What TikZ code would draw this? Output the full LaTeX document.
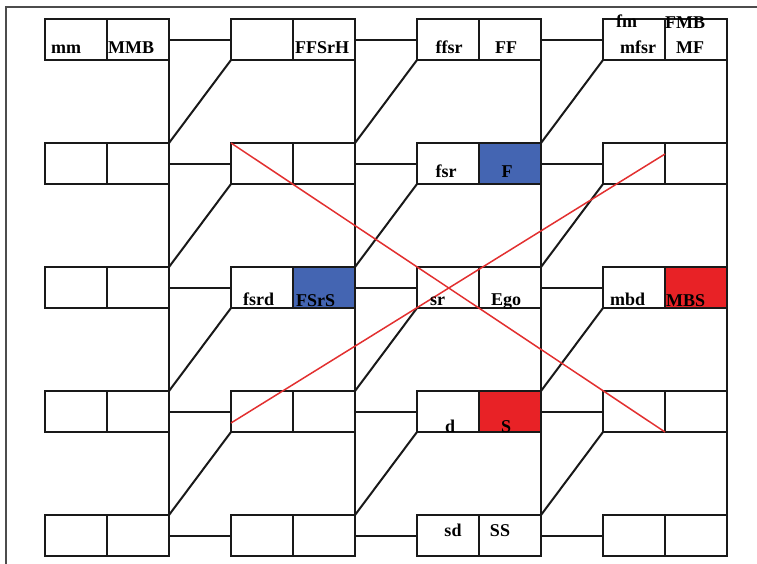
\documentclass[tikz,border=0pt]{standalone}
\usepackage{fontspec}
\setmainfont{Liberation Serif}
\usepackage{tikz}
\usetikzlibrary{calc}
\definecolor{egoblue}{RGB}{68,101,178}
\definecolor{egored}{RGB}{232,34,38}
\definecolor{crossred}{RGB}{226,48,48}

\begin{document}
\begin{tikzpicture}[x=1pt,y=-1pt,
    cell/.style={draw=black!90,line width=2pt,minimum width=62pt,minimum height=41pt,inner sep=0pt,outer sep=0pt},
    link/.style={draw=black!90,line width=2pt},
    lbl/.style={font=\fontsize{18}{18}\selectfont\bfseries,inner sep=0pt},
    % coloured cells
    fillR32/.style={fill=egoblue}, fillR23/.style={fill=egoblue},
    fillR34/.style={fill=egored}, fillR43/.style={fill=egored}]
  \useasboundingbox (0,0) rectangle (757,563);
  % frame
  \draw[line width=1.2pt,black!70] (6,575) -- (6,7) -- (770,7);
  % cells: four columns of pairs, five rows
  \foreach \c in {1,...,4}
    \foreach \r in {1,...,5} {
      \node[cell,fillL\c\r/.try] (L\c\r) at ({76+186*(\c-1)},{39.5+124*(\r-1)}) {};
      \node[cell,fillR\c\r/.try,anchor=west] (R\c\r) at (L\c\r.east) {};
    }
  % spines
  \foreach \c in {1,...,4}
    \draw[link] (R\c1.north east) -- (R\c5.south east);
  % horizontal and slanted links
  \foreach \c [evaluate=\c as \d using int(\c+1)] in {1,...,3} {
    \foreach \r in {1,...,5}
      \draw[link] (R\c\r.east) -- (L\d\r.west);
    \foreach \r [evaluate=\r as \s using int(\r+1)] in {1,...,4}
      \draw[link] (L\d\r.south west) -- (R\c\s.north east);
  }
  % red cross
  \coordinate (xa) at ($(L24.south west)+(0,-9)$);
  \coordinate (xb) at ($(R42.north west)+(0,11)$);
  \draw[crossred,line width=1.5pt] (L22.north west) -- (R44.south west);
  \draw[crossred,line width=1.5pt] (xa) -- (xb);
  % labels
  \node[lbl,anchor=base west] (tmm) at (51,53) {mm};
  \node[lbl,anchor=base west] (tMMB) at (108,53) {MMB};
  \node[lbl,anchor=base west] (tFFSrH) at (295,53) {FFSrH};
  \node[lbl,anchor=base] (tffsr) at (449,53) {ffsr};
  \node[lbl,anchor=base] (tFF) at (506,53) {FF};
  \node[lbl,anchor=base west] (tfm) at (616,27) {fm};
  \node[lbl,anchor=base] (tmfsr) at (638,53) {mfsr};
  \node[lbl,anchor=base west] (tFMB) at (665,28) {FMB};
  \node[lbl,anchor=base] (tMF) at (690,53) {MF};
  \node[lbl,anchor=base] (tfsr) at (446,177) {fsr};
  \node[lbl,anchor=base] (tF) at (507,177) {F};
  \node[lbl,anchor=base west] (tfsrd) at (243,305) {fsrd};
  \node[lbl,anchor=base west] (tFSrS) at (296,306) {FSrS};
  \node[lbl,anchor=base west] (tsr) at (430,305) {sr};
  \node[lbl,anchor=base] (tEgo) at (506,305) {Ego};
  \node[lbl,anchor=base west] (tmbd) at (610,305) {mbd};
  \node[lbl,anchor=base west] (tMBS) at (666,306) {MBS};
  \node[lbl,anchor=base] (td) at (450,432) {d};
  \node[lbl,anchor=base] (tS) at (506,432) {S};
  \node[lbl,anchor=base] (tsd) at (453,536) {sd};
  \node[lbl,anchor=base] (tSS) at (500,536) {SS};
\end{tikzpicture}
\end{document}
